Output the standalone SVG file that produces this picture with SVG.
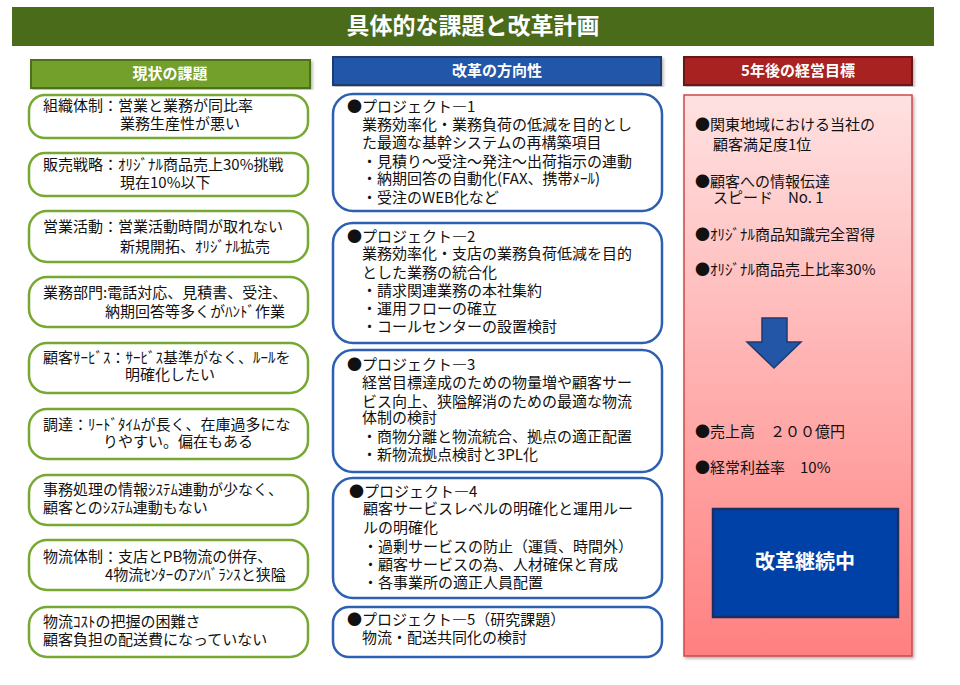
<svg xmlns="http://www.w3.org/2000/svg" width="960" height="685" viewBox="0 0 960 685">
<defs>
<linearGradient id="pink" x1="0" y1="0" x2="0" y2="1">
<stop offset="0" stop-color="#ffe1e1"/>
<stop offset="1" stop-color="#ff8080"/>
</linearGradient>
<filter id="sh" x="-5%" y="-5%" width="110%" height="110%">
<feDropShadow dx="1.5" dy="2" stdDeviation="1.5" flood-color="#000" flood-opacity="0.3"/>
</filter>
</defs>
<style>
text{font-family:"Noto Sans CJK JP","Noto Sans",sans-serif;font-size:15px;fill:#111}
.hd{font-weight:bold;fill:#fff;text-anchor:middle}
.gbox{fill:#fff;stroke:#77a832;stroke-width:2.5}
.bbox{fill:#fff;stroke:#2d5fb2;stroke-width:2.5}
</style>
<rect width="960" height="685" fill="#fff"/>

<g id="title">
<rect x="12" y="7" width="922" height="39" fill="#4a6b1a"/>
<text x="473" y="34" class="hd" style="font-size:23px">具体的な課題と改革計画</text>
</g>

<g id="header-current">
<rect x="31" y="60" width="279" height="28" fill="#72a02a" stroke="#4d701c" stroke-width="2" filter="url(#sh)"/>
<text x="170" y="79" class="hd">現状の課題</text>
</g>
<g id="header-direction">
<rect x="333" y="57" width="328" height="28" fill="#2456a8" stroke="#1d3a72" stroke-width="2" filter="url(#sh)"/>
<text x="497" y="76" class="hd">改革の方向性</text>
</g>
<g id="header-goal">
<rect x="684" y="57" width="228" height="28" fill="#a82424" stroke="#6a1616" stroke-width="2" filter="url(#sh)"/>
<text x="798" y="76" class="hd">5年後の経営目標</text>
</g>

<g id="issue1"><rect x="29" y="95" width="279" height="43" rx="16" class="gbox"/>
<text><tspan x="43" y="111">組織体制：営業と業務が同比率</tspan><tspan x="120" y="129">業務生産性が悪い</tspan></text></g>
<g id="issue2"><rect x="29" y="153" width="279" height="43" rx="16" class="gbox"/>
<text><tspan x="43" y="170">販売戦略：ｵﾘｼﾞﾅﾙ商品売上30%挑戦</tspan><tspan x="120" y="188">現在10%以下</tspan></text></g>
<g id="issue3"><rect x="29" y="211" width="279" height="51" rx="18" class="gbox"/>
<text><tspan x="43" y="232">営業活動：営業活動時間が取れない</tspan><tspan x="120" y="252">新規開拓、ｵﾘｼﾞﾅﾙ拡売</tspan></text></g>
<g id="issue4"><rect x="29" y="277" width="279" height="50" rx="18" class="gbox"/>
<text><tspan x="43" y="298">業務部門:電話対応、見積書、受注、</tspan><tspan x="105" y="317">納期回答等多くがﾊﾝﾄﾞ作業</tspan></text></g>
<g id="issue5"><rect x="29" y="343" width="279" height="50" rx="18" class="gbox"/>
<text><tspan x="43" y="363">顧客ｻｰﾋﾞｽ：ｻｰﾋﾞｽ基準がなく、ﾙｰﾙを</tspan><tspan x="125" y="380">明確化したい</tspan></text></g>
<g id="issue6"><rect x="29" y="409" width="279" height="50" rx="18" class="gbox"/>
<text><tspan x="43" y="430">調達：ﾘｰﾄﾞﾀｲﾑが長く、在庫過多にな</tspan><tspan x="103" y="447">りやすい。偏在もある</tspan></text></g>
<g id="issue7"><rect x="29" y="475" width="279" height="50" rx="18" class="gbox"/>
<text><tspan x="43" y="495">事務処理の情報ｼｽﾃﾑ連動が少なく、</tspan><tspan x="43" y="513">顧客とのｼｽﾃﾑ連動もない</tspan></text></g>
<g id="issue8"><rect x="29" y="540" width="279" height="50" rx="18" class="gbox"/>
<text><tspan x="43" y="562">物流体制：支店とPB物流の併存、</tspan><tspan x="105" y="580">4物流ｾﾝﾀｰのｱﾝﾊﾞﾗﾝｽと狭隘</tspan></text></g>
<g id="issue9"><rect x="29" y="607" width="279" height="50" rx="18" class="gbox"/>
<text><tspan x="43" y="627">物流ｺｽﾄの把握の困難さ</tspan><tspan x="43" y="645">顧客負担の配送費になっていない</tspan></text></g>

<g id="project1"><rect x="333" y="94" width="329" height="117" rx="20" class="bbox"/>
<text><tspan x="347" y="112">●プロジェクト―1</tspan>
<tspan x="362" y="130">業務効率化・業務負荷の低減を目的とし</tspan>
<tspan x="362" y="148">た最適な基幹システムの再構築項目</tspan>
<tspan x="362" y="167">・見積り～受注～発注～出荷指示の連動</tspan>
<tspan x="362" y="184">・納期回答の自動化(FAX、携帯ﾒｰﾙ)</tspan>
<tspan x="362" y="203">・受注のWEB化など</tspan></text></g>
<g id="project2"><rect x="333" y="223" width="329" height="120" rx="20" class="bbox"/>
<text><tspan x="347" y="242">●プロジェクト―2</tspan>
<tspan x="362" y="259">業務効率化・支店の業務負荷低減を目的</tspan>
<tspan x="362" y="278">とした業務の統合化</tspan>
<tspan x="362" y="296">・請求関連業務の本社集約</tspan>
<tspan x="362" y="314">・運用フローの確立</tspan>
<tspan x="362" y="332">・コールセンターの設置検討</tspan></text></g>
<g id="project3"><rect x="333" y="350" width="329" height="122" rx="20" class="bbox"/>
<text><tspan x="347" y="370">●プロジェクト―3</tspan>
<tspan x="362" y="388">経営目標達成のための物量増や顧客サー</tspan>
<tspan x="362" y="407">ビス向上、狭隘解消のための最適な物流</tspan>
<tspan x="362" y="423">体制の検討</tspan>
<tspan x="362" y="442">・商物分離と物流統合、拠点の適正配置</tspan>
<tspan x="362" y="460">・新物流拠点検討と3PL化</tspan></text></g>
<g id="project4"><rect x="333" y="478" width="329" height="120" rx="20" class="bbox"/>
<text><tspan x="349" y="497">●プロジェクト―4</tspan>
<tspan x="363" y="514">顧客サービスレベルの明確化と運用ルー</tspan>
<tspan x="363" y="533">ルの明確化</tspan>
<tspan x="363" y="552">・過剰サービスの防止（運賃、時間外）</tspan>
<tspan x="363" y="570">・顧客サービスの為、人材確保と育成</tspan>
<tspan x="363" y="588">・各事業所の適正人員配置</tspan></text></g>
<g id="project5"><rect x="333" y="607" width="329" height="50" rx="16" class="bbox"/>
<text><tspan x="347" y="625">●プロジェクト―5（研究課題）</tspan>
<tspan x="362" y="643">物流・配送共同化の検討</tspan></text></g>

<g id="goals">
<rect x="684" y="95" width="228" height="561" fill="url(#pink)" stroke="#d04848" stroke-width="1.5" filter="url(#sh)"/>
<text><tspan x="695" y="130">●関東地域における当社の</tspan><tspan x="713" y="150">顧客満足度1位</tspan></text>
<text><tspan x="695" y="187">●顧客への情報伝達</tspan><tspan x="713" y="203">スピード　No. 1</tspan></text>
<text x="695" y="240">●ｵﾘｼﾞﾅﾙ商品知識完全習得</text>
<text x="695" y="275">●ｵﾘｼﾞﾅﾙ商品売上比率30%</text>
<text x="695" y="437">●売上高　２００億円</text>
<text x="695" y="473">●経常利益率　10%</text>
</g>

<g id="connectors">
<polygon points="762,318 787,318 787,342 801,342 774,368 747,342 762,342" fill="#2456a8" stroke="#1d3a72" stroke-width="1.5"/>
</g>

<g id="continuing">
<rect x="713" y="509" width="185" height="108" fill="#0041a8" stroke="#1a2f60" stroke-width="2.5"/>
<text x="805" y="569" class="hd" style="font-size:20px">改革継続中</text>
</g>
</svg>
